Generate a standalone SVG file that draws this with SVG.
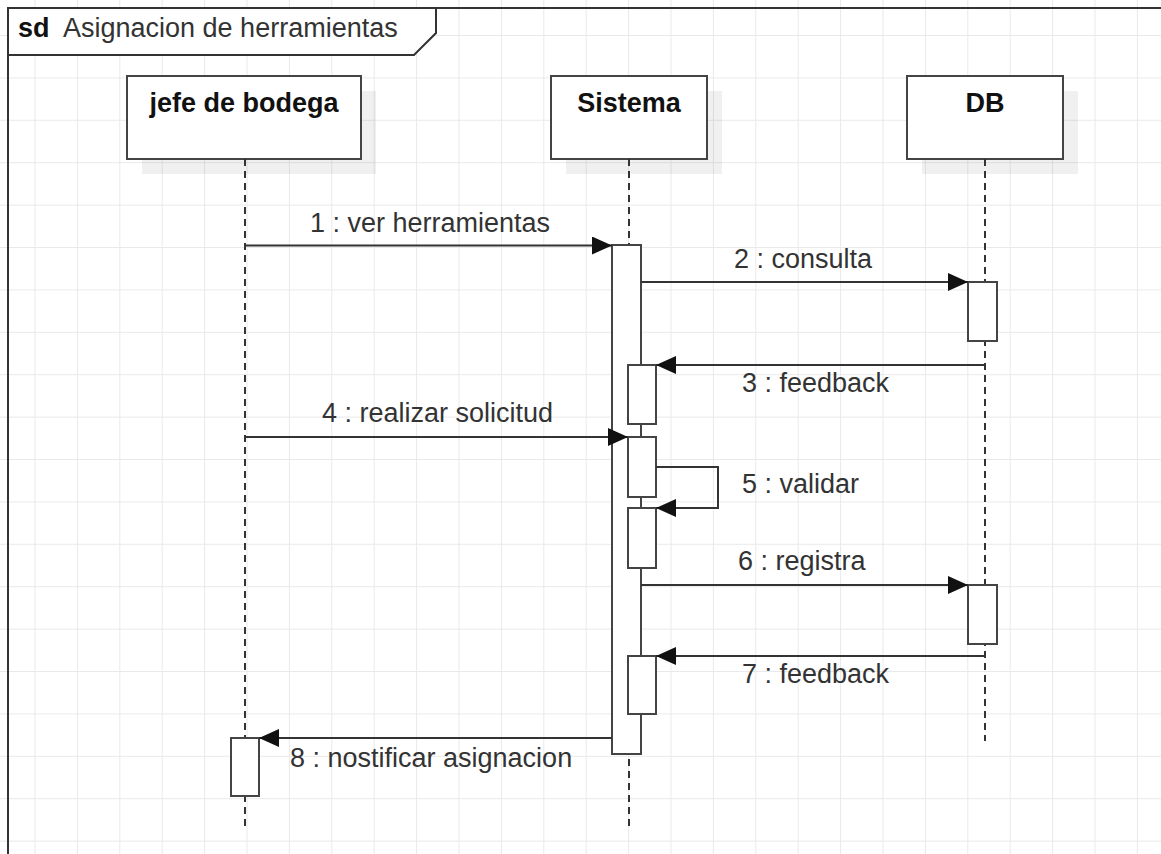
<svg xmlns="http://www.w3.org/2000/svg" width="1161" height="854" viewBox="0 0 1161 854">
  <defs>
    <pattern id="grid" patternUnits="userSpaceOnUse" x="34.5" y="35" width="42.4" height="42.4">
      <path d="M0,0 H42.4 M0,0 V42.4" fill="none" stroke="#e9e9e9" stroke-width="2"/>
    </pattern>
    <marker id="arrow" markerUnits="userSpaceOnUse" viewBox="0 0 20 18" refX="20" refY="9" markerWidth="20" markerHeight="18" orient="auto">
      <path d="M0,0 L20,9 L0,18 Z" fill="#111"/>
    </marker>
    <style>
      .txt { font-family: "Liberation Sans", Arial, sans-serif; font-size: 27px; fill: #333; }
      .name { font-family: "Liberation Sans", Arial, sans-serif; font-size: 27px; font-weight: bold; fill: #111; text-anchor: middle; }
      .head { fill: #fff; stroke: #444; stroke-width: 2; }
      .shadow { fill: #000; fill-opacity: 0.06; }
      .life { fill: none; stroke: #333; stroke-width: 2; stroke-dasharray: 7 5; }
      .bar { fill: #fff; stroke: #444; stroke-width: 2; }
      .msg { fill: none; stroke: #333; stroke-width: 2; marker-end: url(#arrow); }
    </style>
  </defs>

  <!-- background grid -->
  <rect width="1161" height="854" fill="#fff"/>
  <rect width="1161" height="854" fill="url(#grid)"/>

  <!-- interaction frame -->
  <g id="frame">
    <rect x="8" y="8" width="1300" height="1000" fill="none" stroke="#333" stroke-width="2"/>
    <polygon points="8,8 436,8 436,33 414,55 8,55" fill="#fff" stroke="#333" stroke-width="2"/>
    <text x="18" y="37" class="txt" style="font-weight:bold; fill:#111">sd</text>
    <text x="63" y="37" class="txt">Asignacion de herramientas</text>
  </g>

  <!-- lifeline: jefe de bodega -->
  <g id="jefe">
    <rect class="shadow" x="142" y="91" width="234" height="83"/>
    <rect class="head" x="127" y="76" width="234" height="83"/>
    <text class="name" x="244" y="112">jefe de bodega</text>
    <line class="life" x1="245" y1="159" x2="245" y2="828"/>
    <rect class="bar" x="231" y="738" width="28" height="58"/>
  </g>

  <!-- lifeline: Sistema -->
  <g id="sistema">
    <rect class="shadow" x="566" y="91" width="156" height="83"/>
    <rect class="head" x="551" y="76" width="156" height="83"/>
    <text class="name" x="629" y="112">Sistema</text>
    <line class="life" x1="629" y1="159" x2="629" y2="828"/>
    <rect class="bar" x="612" y="245" width="29" height="509"/>
    <rect class="bar" x="628" y="365" width="28" height="59"/>
    <rect class="bar" x="628" y="437" width="28" height="60"/>
    <rect class="bar" x="628" y="508" width="28" height="60"/>
    <rect class="bar" x="628" y="656" width="28" height="58"/>
  </g>

  <!-- lifeline: DB -->
  <g id="db">
    <rect class="shadow" x="922" y="91" width="156" height="83"/>
    <rect class="head" x="907" y="76" width="156" height="83"/>
    <text class="name" x="985" y="112">DB</text>
    <line class="life" x1="985" y1="159" x2="985" y2="741"/>
    <rect class="bar" x="968" y="282" width="29" height="59"/>
    <rect class="bar" x="968" y="585" width="29" height="59"/>
  </g>

  <!-- messages -->
  <g id="connectors">
    <line class="msg" x1="245" y1="245.5" x2="612" y2="245.5"/>
    <text class="txt" x="430" y="232" text-anchor="middle">1 : ver herramientas</text>

    <line class="msg" x1="641" y1="282" x2="968" y2="282"/>
    <text class="txt" x="803" y="268" text-anchor="middle">2 : consulta</text>

    <line class="msg" x1="985" y1="365" x2="656" y2="365"/>
    <text class="txt" x="742" y="392">3 : feedback</text>

    <line class="msg" x1="245" y1="437" x2="628" y2="437"/>
    <text class="txt" x="437.5" y="422" text-anchor="middle">4 : realizar solicitud</text>

    <polyline class="msg" points="656,467 718,467 718,508 656,508"/>
    <text class="txt" x="742" y="493">5 : validar</text>

    <line class="msg" x1="641" y1="585" x2="968" y2="585"/>
    <text class="txt" x="738" y="570">6 : registra</text>

    <line class="msg" x1="985" y1="656" x2="656" y2="656"/>
    <text class="txt" x="742" y="683">7 : feedback</text>

    <line class="msg" x1="612" y1="738" x2="259" y2="738"/>
    <text class="txt" x="290" y="767">8 : nostificar asignacion</text>
  </g>
</svg>
